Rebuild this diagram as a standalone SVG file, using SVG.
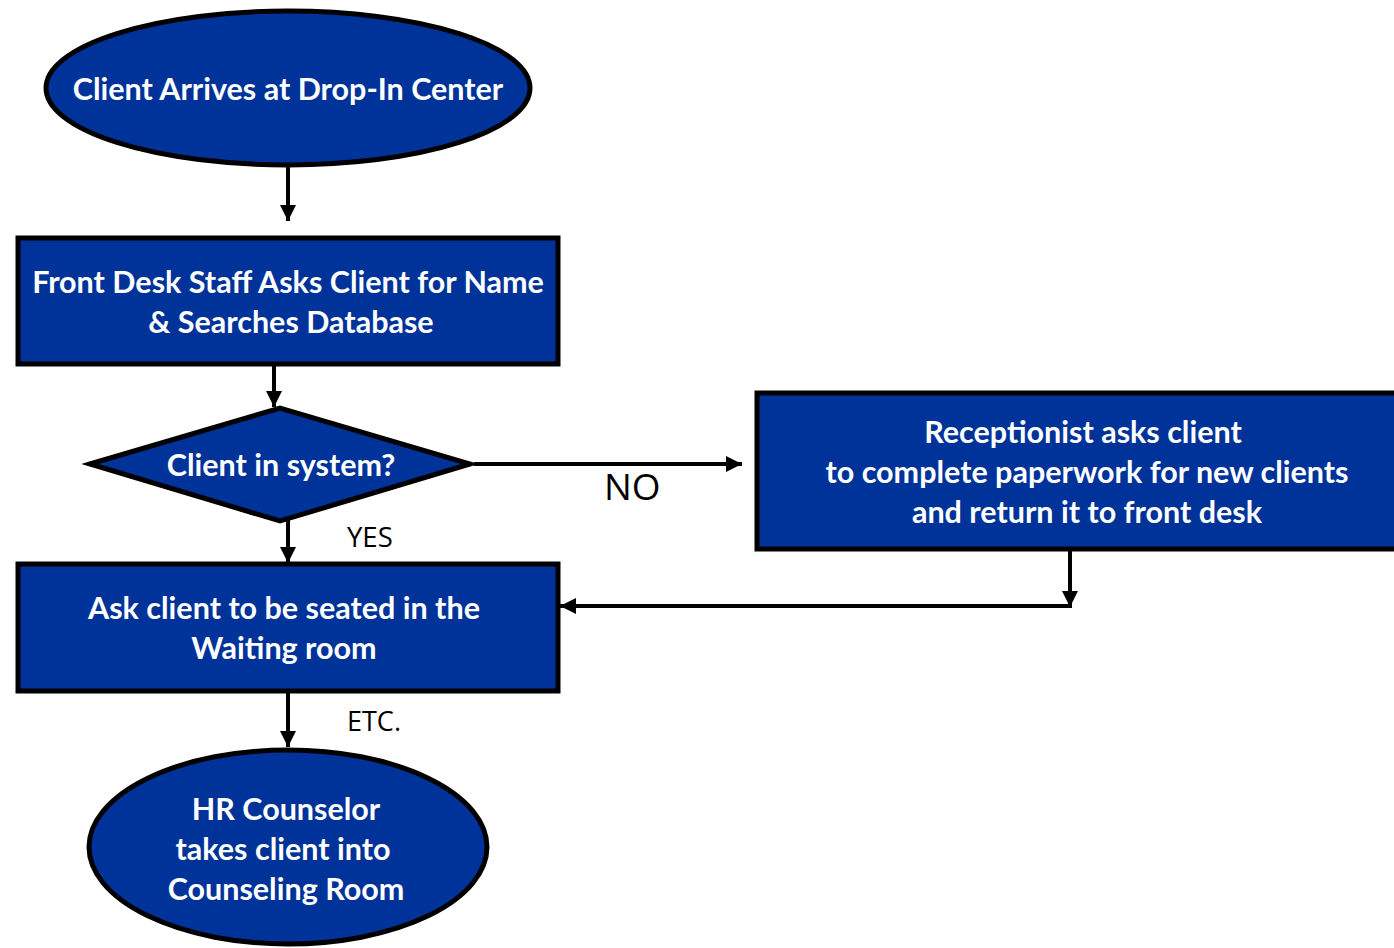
<svg xmlns="http://www.w3.org/2000/svg" width="1394" height="948" viewBox="0 0 1394 948">
  <style>
    .node { fill: #003399; stroke: #000; stroke-width: 5; }
    .lbl { font-family: Lato, "Open Sans", "Liberation Sans", sans-serif; font-weight: 700; font-size: 30.5px; fill: #fff; text-anchor: middle; dominant-baseline: central; }
    .edge { stroke: #000; stroke-width: 4; fill: none; }
    .elbl { font-family: "Open Sans", "Liberation Sans", sans-serif; fill: #000; dominant-baseline: central; }
  </style>
  <defs>
    <marker id="arrow" viewBox="0 0 10 10" refX="10" refY="5" markerWidth="4" markerHeight="4" markerUnits="strokeWidth" orient="auto">
      <path d="M0,0 L10,5 L0,10 z" fill="#000"/>
    </marker>
  </defs>

  <!-- connectors -->
  <g id="connectors">
    <line class="edge" x1="288" y1="166" x2="288" y2="221" marker-end="url(#arrow)"/>
    <line class="edge" x1="274" y1="352" x2="274" y2="407" marker-end="url(#arrow)"/>
    <line class="edge" x1="474" y1="464" x2="742" y2="464" marker-end="url(#arrow)"/>
    <line class="edge" x1="288" y1="507" x2="288" y2="563" marker-end="url(#arrow)"/>
    <line class="edge" x1="1070" y1="550" x2="1070" y2="607" marker-end="url(#arrow)"/>
    <line class="edge" x1="1072" y1="606" x2="560" y2="606" marker-end="url(#arrow)"/>
    <line class="edge" x1="288" y1="692" x2="288" y2="747" marker-end="url(#arrow)"/>
    <text class="elbl" x="604" y="485" font-size="37">NO</text>
    <text class="elbl" x="347" y="536" font-size="27.5">YES</text>
    <text class="elbl" x="347" y="720" font-size="27">ETC.</text>
  </g>

  <g id="start">
    <ellipse class="node" cx="288" cy="88" rx="242" ry="77"/>
    <text class="lbl" x="288" y="88">Client Arrives at Drop-In Center</text>
  </g>

  <g id="front-desk">
    <rect class="node" x="18" y="238" width="540" height="126"/>
    <text class="lbl" x="288" y="281">Front Desk Staff Asks Client for Name</text>
    <text class="lbl" x="291" y="321">&amp; Searches Database</text>
  </g>

  <g id="decision">
    <polygon class="node" points="90,464 280,408 470,464 280,521"/>
    <text class="lbl" x="281" y="464">Client in system?</text>
  </g>

  <g id="paperwork">
    <rect class="node" x="757" y="393" width="650" height="156"/>
    <text class="lbl" x="1083" y="431">Receptionist asks client</text>
    <text class="lbl" x="1087" y="471">to complete paperwork for new clients</text>
    <text class="lbl" x="1087" y="511">and return it to front desk</text>
  </g>

  <g id="waiting">
    <rect class="node" x="18" y="564" width="540" height="127"/>
    <text class="lbl" x="284" y="607">Ask client to be seated in the</text>
    <text class="lbl" x="284" y="647">Waiting room</text>
  </g>

  <g id="counseling">
    <ellipse class="node" cx="288" cy="847" rx="199" ry="97"/>
    <text class="lbl" x="286" y="808">HR Counselor</text>
    <text class="lbl" x="283" y="848">takes client into</text>
    <text class="lbl" x="286" y="888">Counseling Room</text>
  </g>
</svg>
